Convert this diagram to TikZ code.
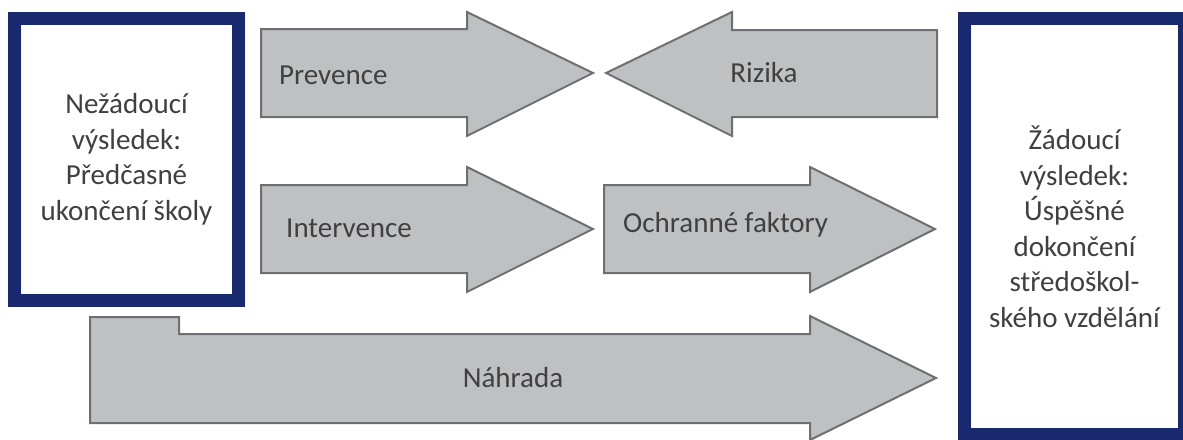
\documentclass[tikz,border=0pt]{standalone}
\usepackage{fontspec}
\setmainfont{Carlito}
\usetikzlibrary{positioning}

\definecolor{navy}{RGB}{24,41,112}
\definecolor{arrfill}{RGB}{191,192,194}
\definecolor{arrline}{RGB}{110,111,114}
\definecolor{txtgray}{RGB}{64,64,64}

\begin{document}
\begin{tikzpicture}[%
        x = 1pt,
        y = -1pt,
        line join = miter,
        outcome/.style = {
            draw = navy,
            line width = 13pt,
            fill = white,
            align = center,
            text = txtgray,
            font = \fontsize{29}{35.5}\selectfont,
            inner sep = 0pt
        },
        blockarrow/.style = {
            draw = arrline,
            line width = 2pt,
            fill = arrfill
        },
        arrlabel/.style = {
            text = txtgray,
            font = \fontsize{29}{35}\selectfont,
            inner sep = 0pt
        }
    ]

        % Fix the page to the size of the reference.
        \useasboundingbox (0, 0) rectangle (1183, 439);

        % Left box: undesired outcome.
        \node[outcome, minimum width = 224pt, minimum height = 282pt]
            (bad) at (126.5, 159.5)
            {Nežádoucí\\výsledek:\\Předčasné\\ukončení školy};

        % Right box: desired outcome (its right edge runs off the page).
        \begin{scope}
            \clip (0, 0) rectangle (1183, 439);
            \node[outcome, minimum width = 220pt, minimum height = 416pt]
                (good) at (1074.5, 226.5)
                {Žádoucí\\výsledek:\\Úspěšné\\dokončení\\středoškol-\\ského vzdělání};
        \end{scope}

        % Top row.
        \draw[blockarrow] (261, 29) -- (467, 29) -- (467, 12) -- (593, 73)
            -- (467, 136) -- (467, 117) -- (261, 117) -- cycle;
        \draw[blockarrow] (937, 30) -- (732, 30) -- (732, 12) -- (606, 73)
            -- (732, 136) -- (732, 117) -- (937, 117) -- cycle;

        % Middle row.
        \draw[blockarrow] (261, 185) -- (467, 185) -- (467, 167) -- (593, 229)
            -- (467, 292) -- (467, 273) -- (261, 273) -- cycle;
        \draw[blockarrow] (604, 185) -- (810, 185) -- (810, 167) -- (935, 229)
            -- (810, 292) -- (810, 273) -- (604, 273) -- cycle;

        % Bottom row with the raised tail.
        \draw[blockarrow] (90, 317) -- (179, 317) -- (179, 334) -- (810, 334)
            -- (810, 316) -- (936, 378) -- (810, 440) -- (810, 423)
            -- (90, 423) -- cycle;

        % Labels on the arrows.
        \node[arrlabel, anchor = west] (prev) at (279, 75) {Prevence};
        \node[arrlabel] (risk) at (764, 73) {Rizika};
        \node[arrlabel, anchor = west] (interv) at (286, 228) {Intervence};
        \node[arrlabel, anchor = west] (protect) at (623, 225) {Ochranné faktory};
        \node[arrlabel] (subst) at (513, 378) {Náhrada};
    \end{tikzpicture}
\end{document}
